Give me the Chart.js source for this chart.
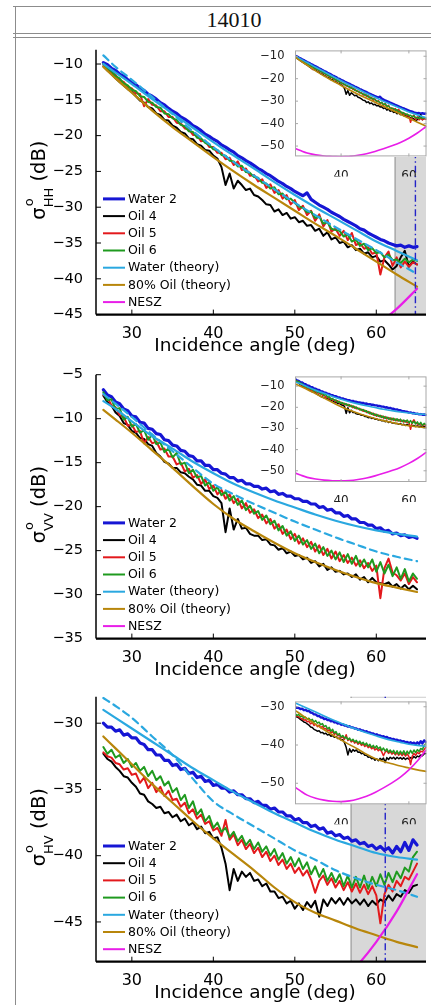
<!DOCTYPE html>
<html lang="en">
<head>
<meta charset="UTF-8" />
<meta name="viewport" content="width=device-width, initial-scale=1.0" />
<title>14010 - backscatter vs incidence angle</title>
<style>
  body { margin: 0; background: #fff; }
  #page { position: relative; width: 431px; height: 1005px; overflow: hidden; background: #fff; }
  .rule { position: absolute; background: #8c8c8c; }
  #header {
    position: absolute; left: 15px; width: 438px; top: 7px; height: 26px;
    line-height: 26px; text-align: center; color: #111;
    font-family: "Liberation Serif", "DejaVu Serif", serif; font-size: 22px;
  }
  canvas { position: absolute; }
  canvas.main { z-index: 1; }
  .insetBg { position: absolute; z-index: 2; background: #fff; }
  canvas.inset { z-index: 3; }
</style>
<script src="https://cdn.jsdelivr.net/npm/chart.js"></script>
</head>
<body>
<div id="page">
  <div class="rule" style="left:13px;top:5.5px;width:418px;height:1.5px"></div>
  <div class="rule" style="left:13px;top:32.5px;width:418px;height:1.5px"></div>
  <div class="rule" style="left:13px;top:36.5px;width:418px;height:1.5px"></div>
  <div class="rule" style="left:14.5px;top:5.5px;width:1.5px;height:1000px"></div>
  <div id="header">14010</div>

  <canvas id="hh" class="main"></canvas>
  <div id="hhInsetBg" class="insetBg"></div>
  <canvas id="hhInset" class="inset"></canvas>
  <canvas id="vv" class="main"></canvas>
  <div id="vvInsetBg" class="insetBg"></div>
  <canvas id="vvInset" class="inset"></canvas>
  <canvas id="hv" class="main"></canvas>
  <div id="hvInsetBg" class="insetBg"></div>
  <canvas id="hvInset" class="inset"></canvas>
</div>

<script>
// incidence angles of the measured profiles (deg)
const angles = [
  26.5, 27, 27.5, 28, 28.5, 29, 29.5, 30, 30.5, 31,
  31.5, 32, 32.5, 33, 33.5, 34, 34.5, 35, 35.5, 36,
  36.5, 37, 37.5, 38, 38.5, 39, 39.5, 40, 40.5, 41,
  41.5, 42, 42.5, 43, 43.5, 44, 44.5, 45, 45.5, 46,
  46.5, 47, 47.5, 48, 48.5, 49, 49.5, 50, 50.5, 51,
  51.5, 52, 52.5, 53, 53.5, 54, 54.5, 55, 55.5, 56,
  56.5, 57, 57.5, 58, 58.5, 59, 59.5, 60, 60.5, 61,
  61.5, 62, 62.5, 63, 63.5, 64, 64.5, 65
];

// incidence angles of the model curves and noise floor (deg)
const modelAngles = [26.5, 28, 30, 32.5, 35, 37.5, 40, 42.5, 45, 47.5, 50, 52.5, 55, 57.5, 60, 62.5, 65];

const nesz = [-51.1, -52.0, -53.1, -53.9, -54.4, -54.7, -54.8, -54.6, -54.1, -53.4, -52.4, -51.2, -49.9, -48.4, -46.5, -44.2, -41.4];

// ---- HH ----
const hhWater2 = [
  -9.8, -10.1, -10.6, -10.9, -11.4, -11.7, -12.2, -12.6, -12.9, -13.4,
  -13.7, -14.2, -14.5, -14.9, -15.4, -15.7, -16.2, -16.6, -16.9, -17.4,
  -17.7, -18.1, -18.6, -18.9, -19.3, -19.8, -20.1, -20.5, -20.8, -21.3,
  -21.6, -22.0, -22.3, -22.8, -23.1, -23.5, -23.8, -24.2, -24.6, -24.9,
  -25.3, -25.6, -26.0, -26.4, -26.7, -27.1, -27.4, -27.8, -28.1, -28.4,
  -28.0, -28.9, -29.3, -29.7, -30.0, -30.3, -30.7, -31.0, -31.3, -31.7,
  -32.0, -32.3, -32.6, -33.0, -33.2, -33.6, -33.9, -34.2, -34.5, -34.7,
  -35.0, -35.2, -35.4, -35.3, -35.6, -35.4, -35.6, -35.5
];
const hhOil4 = [
  -10.3, -10.9, -11.4, -12.0, -12.5, -13.0, -13.5, -13.9, -14.5, -15.1,
  -15.4, -16.0, -16.2, -16.9, -17.1, -17.8, -17.9, -18.6, -18.9, -19.5,
  -19.7, -20.4, -20.5, -21.2, -21.4, -22.0, -22.1, -22.8, -23.2, -24.4,
  -26.9, -25.3, -27.4, -26.3, -26.9, -27.6, -27.4, -28.3, -28.5, -29.0,
  -29.6, -29.7, -30.6, -30.3, -31.1, -30.8, -31.6, -31.4, -32.1, -31.9,
  -32.6, -32.5, -33.3, -33.0, -34.0, -33.5, -34.5, -34.2, -35.0, -34.8,
  -35.6, -35.3, -36.0, -35.8, -36.5, -36.3, -37.0, -36.8, -37.6, -37.4,
  -38.0, -38.7, -38.2, -37.0, -36.1, -38.3, -37.6, -38.0
];
const hhOil5 = [
  -10.1, -10.4, -11.2, -11.5, -12.3, -12.5, -13.2, -13.4, -14.1, -14.2,
  -15.9, -14.9, -15.7, -15.8, -16.6, -16.6, -17.4, -17.4, -18.2, -18.3,
  -19.0, -19.1, -19.9, -19.9, -20.8, -20.7, -21.6, -21.6, -22.4, -22.4,
  -23.3, -23.1, -24.1, -23.6, -24.8, -24.6, -25.6, -25.5, -26.4, -26.1,
  -27.3, -26.8, -28.0, -27.6, -28.8, -28.3, -29.6, -29.0, -30.4, -29.8,
  -31.1, -30.5, -31.9, -31.0, -32.7, -31.8, -33.4, -33.0, -34.0, -33.3,
  -34.6, -33.6, -35.3, -35.0, -35.8, -35.6, -36.5, -36.3, -39.4, -37.0,
  -36.2, -38.2, -37.0, -38.4, -37.6, -38.3, -37.7, -38.0
];
const hhOil6 = [
  -10.0, -10.6, -11.0, -11.7, -12.0, -12.7, -13.0, -13.6, -13.8, -14.5,
  -14.6, -15.3, -15.4, -16.0, -16.1, -16.9, -17.0, -17.6, -17.8, -18.5,
  -18.7, -19.4, -19.5, -20.3, -20.4, -21.0, -21.3, -21.9, -22.0, -22.7,
  -22.8, -23.5, -23.6, -24.3, -24.2, -25.1, -25.2, -25.8, -25.9, -26.6,
  -26.7, -27.4, -27.2, -28.2, -28.1, -28.9, -28.8, -29.4, -29.9, -30.1,
  -30.7, -30.6, -31.5, -31.3, -32.3, -32.1, -33.0, -33.2, -33.3, -34.1,
  -33.8, -34.8, -34.5, -35.4, -35.1, -36.0, -35.7, -36.4, -36.3, -37.0,
  -36.6, -37.4, -37.3, -37.8, -37.2, -37.7, -37.3, -37.5
];
const hhWaterModel = [-10.0, -11.2, -12.8, -14.9, -16.9, -18.9, -20.9, -22.8, -24.6, -26.5, -28.3, -30.0, -31.6, -33.2, -34.8, -36.1, -37.4];
const hhWaterModelB = [-8.8, -10.4, -12.2, -14.6, -17.0, -19.4, -21.6, -23.7, -25.6, -27.5, -29.4, -31.1, -32.8, -34.4, -36.0, -37.7, -39.3];
const hhOilModel = [-10.4, -12.0, -14.0, -16.5, -18.8, -20.9, -23.0, -25.0, -26.9, -28.7, -30.5, -32.3, -34.0, -35.8, -37.6, -39.4, -41.1];

// ---- VV ----
const vvWater2 = [
  -6.7, -7.3, -7.5, -8.1, -8.3, -8.9, -9.1, -9.7, -9.8, -10.4,
  -10.5, -11.1, -11.2, -11.7, -11.8, -12.4, -12.5, -13.0, -13.1, -13.6,
  -13.7, -14.2, -14.3, -14.8, -14.8, -15.3, -15.3, -15.8, -15.8, -16.2,
  -16.3, -16.7, -16.7, -17.1, -17.0, -17.4, -17.4, -17.7, -17.7, -18.0,
  -17.9, -18.3, -18.2, -18.6, -18.5, -18.8, -18.8, -19.1, -19.1, -19.4,
  -19.4, -19.7, -19.7, -20.1, -20.0, -20.4, -20.3, -20.7, -20.7, -21.1,
  -21.0, -21.4, -21.4, -21.8, -21.8, -22.1, -22.1, -22.5, -22.4, -22.8,
  -22.7, -23.1, -23.0, -23.3, -23.2, -23.5, -23.4, -23.6
];
const vvOil4 = [
  -7.4, -8.1, -8.5, -9.3, -9.7, -10.5, -10.7, -11.4, -11.6, -12.2,
  -12.3, -12.9, -13.1, -13.9, -14.3, -14.9, -15.1, -15.6, -15.6, -16.1,
  -16.2, -16.6, -16.9, -17.5, -17.6, -18.2, -18.2, -18.8, -19.0, -19.6,
  -22.9, -20.2, -22.6, -21.4, -22.5, -22.4, -23.1, -23.3, -23.3, -23.8,
  -23.7, -24.3, -24.4, -24.9, -24.7, -25.3, -25.1, -25.6, -25.5, -26.0,
  -25.8, -26.4, -26.2, -26.8, -26.5, -27.2, -26.9, -27.4, -27.3, -27.7,
  -27.6, -28.0, -27.7, -28.3, -28.0, -28.6, -28.1, -28.6, -28.7, -28.8,
  -28.6, -29.1, -28.8, -29.3, -28.9, -29.4, -29.0, -29.4
];
const vvOil5 = [
  -7.3, -7.6, -8.5, -8.7, -9.6, -9.8, -10.8, -10.7, -11.5, -11.4,
  -12.8, -12.1, -12.8, -12.6, -13.5, -13.4, -14.3, -14.3, -15.2, -15.0,
  -16.0, -15.7, -16.7, -16.4, -17.4, -16.9, -18.0, -17.6, -18.6, -18.1,
  -19.1, -18.6, -19.6, -19.1, -20.2, -19.6, -20.7, -20.3, -21.3, -20.9,
  -21.9, -21.4, -22.5, -22.0, -23.1, -22.6, -23.7, -23.1, -24.2, -23.6,
  -24.6, -24.0, -25.1, -24.4, -25.5, -24.8, -25.9, -25.1, -26.2, -25.5,
  -26.4, -25.8, -26.7, -26.1, -27.0, -26.4, -27.3, -26.7, -30.4, -27.0,
  -25.9, -27.5, -27.8, -28.4, -27.6, -28.8, -28.0, -28.6
];
const vvOil6 = [
  -7.0, -7.9, -7.8, -8.9, -8.8, -10.1, -9.8, -10.9, -10.6, -11.6,
  -11.3, -12.4, -11.8, -12.9, -12.7, -13.8, -13.4, -14.4, -13.9, -15.2,
  -15.0, -16.2, -15.8, -16.7, -16.5, -17.6, -17.2, -18.2, -17.8, -18.7,
  -18.3, -19.3, -18.8, -19.8, -19.3, -20.4, -19.9, -20.8, -20.5, -21.5,
  -21.0, -22.0, -21.6, -22.7, -22.2, -23.3, -22.8, -23.9, -23.3, -24.3,
  -23.8, -24.8, -24.2, -25.3, -24.6, -25.6, -25.0, -26.0, -25.2, -26.3,
  -25.4, -26.5, -25.6, -26.8, -26.0, -26.9, -26.0, -27.4, -26.3, -27.6,
  -26.6, -27.9, -26.9, -28.2, -27.1, -28.5, -27.6, -28.2
];
const vvWaterModel = [-8.0, -8.9, -10.3, -12.0, -13.4, -14.9, -16.2, -17.4, -18.4, -19.3, -20.1, -20.9, -21.6, -22.2, -22.7, -23.1, -23.4];
const vvWaterModelB = [-7.2, -8.3, -9.8, -11.8, -13.7, -15.6, -17.4, -18.6, -19.7, -20.7, -21.7, -22.6, -23.5, -24.3, -25.1, -25.7, -26.2];
const vvOilModel = [-9.0, -10.1, -11.6, -13.6, -15.6, -17.7, -19.7, -21.4, -22.8, -24.1, -25.3, -26.3, -27.2, -28.0, -28.7, -29.2, -29.7];

// ---- HV ----
const hvWater2 = [
  -30.0, -30.3, -30.3, -30.6, -30.5, -30.9, -30.8, -31.1, -31.1, -31.5,
  -31.6, -32.0, -32.0, -32.4, -32.4, -32.8, -32.8, -33.2, -33.1, -33.5,
  -33.4, -33.8, -33.7, -34.1, -34.0, -34.4, -34.3, -34.7, -34.6, -34.9,
  -34.9, -35.2, -35.1, -35.4, -35.4, -35.7, -35.7, -36.0, -35.9, -36.2,
  -36.2, -36.5, -36.4, -36.7, -36.7, -37.0, -37.0, -37.3, -37.2, -37.5,
  -37.5, -37.8, -37.7, -38.0, -37.9, -38.3, -38.2, -38.5, -38.4, -38.7,
  -38.6, -38.9, -38.8, -39.1, -39.0, -39.3, -39.2, -39.5, -39.3, -39.6,
  -39.4, -39.8, -39.3, -39.7, -39.0, -39.6, -38.8, -39.2
];
const hvOil4 = [
  -32.3, -32.7, -32.9, -33.3, -33.6, -34.0, -34.1, -34.5, -34.8, -35.3,
  -35.4, -35.9, -36.1, -36.4, -36.3, -36.8, -36.7, -37.1, -36.9, -37.4,
  -37.2, -37.7, -37.5, -38.0, -37.8, -38.3, -38.2, -38.7, -38.6, -39.4,
  -40.6, -42.6, -41.0, -41.9, -41.2, -41.6, -41.3, -41.9, -41.8, -42.3,
  -42.1, -42.7, -42.7, -43.2, -43.1, -43.6, -43.4, -44.0, -43.6, -44.1,
  -43.5, -43.9, -43.4, -44.6, -43.3, -43.8, -43.2, -43.6, -43.2, -43.7,
  -43.2, -43.6, -43.3, -43.7, -43.3, -43.8, -43.4, -43.7, -43.3, -43.5,
  -43.0, -43.4, -42.9, -43.1, -42.6, -42.8, -42.3, -42.2
];
const hvOil5 = [
  -32.2, -32.5, -32.6, -33.0, -33.1, -33.5, -33.4, -33.9, -33.8, -34.5,
  -34.1, -34.9, -34.5, -35.2, -34.8, -35.5, -35.1, -35.8, -35.7, -36.3,
  -36.0, -36.8, -36.5, -37.2, -36.9, -37.6, -37.4, -38.1, -37.9, -38.5,
  -37.3, -38.8, -38.4, -39.2, -38.8, -39.5, -39.1, -39.8, -39.4, -40.1,
  -39.7, -40.4, -40.0, -40.7, -40.3, -41.0, -40.6, -41.3, -40.9, -41.5,
  -41.1, -41.8, -42.8, -41.9, -41.5, -42.2, -41.7, -42.4, -41.9, -42.6,
  -42.0, -42.7, -42.1, -42.8, -42.2, -42.9, -42.3, -43.0, -45.1, -42.9,
  -42.2, -42.7, -41.9, -42.3, -41.6, -41.8, -41.2, -40.6
];
const hvOil6 = [
  -31.8, -32.3, -32.0, -32.6, -32.4, -33.0, -32.7, -33.3, -33.0, -33.6,
  -33.3, -34.0, -33.6, -34.3, -34.0, -34.7, -34.4, -35.2, -34.9, -35.8,
  -35.4, -36.4, -35.9, -36.9, -36.5, -37.4, -37.0, -37.9, -37.5, -38.2,
  -37.9, -38.6, -38.2, -38.9, -38.5, -39.2, -38.8, -39.5, -39.0, -39.7,
  -39.3, -40.0, -39.5, -40.3, -39.8, -40.6, -40.1, -40.8, -40.2, -41.0,
  -40.5, -41.4, -40.8, -41.6, -41.0, -41.9, -41.3, -42.0, -41.4, -42.3,
  -41.5, -42.4, -41.6, -42.4, -41.5, -42.5, -41.6, -42.3, -41.4, -42.2,
  -41.3, -42.0, -41.2, -41.7, -40.9, -41.2, -40.1, -39.7
];
const hvWaterModel = [-29.0, -29.6, -30.4, -31.4, -32.4, -33.4, -34.3, -35.2, -36.0, -36.8, -37.5, -38.2, -38.8, -39.3, -39.8, -40.1, -40.3];
const hvWaterModelB = [-28.1, -28.7, -29.6, -31.0, -32.4, -34.2, -35.9, -36.9, -37.8, -38.7, -39.6, -40.3, -41.1, -41.7, -42.2, -42.6, -43.1];
const hvOilModel = [-31.0, -31.9, -33.1, -34.6, -36.0, -37.4, -38.7, -39.9, -41.1, -42.4, -43.5, -44.3, -44.9, -45.5, -46.0, -46.5, -46.9];

// axis ticks
const xTicks = [30, 40, 50, 60];
const insetXTicks = [40, 60];
const hhTicks = [-45, -40, -35, -30, -25, -20, -15, -10];
const vvTicks = [-35, -30, -25, -20, -15, -10, -5];
const hvTicks = [-45, -40, -35, -30];
const insetTicks = [-50, -40, -30, -20, -10];
const insetHvTicks = [-50, -40, -30];

// shaded high-angle region and NESZ cut-off angle
const hhShadeFrom = 62.3, hhCutoff = 64.8;
const hvShadeFrom = 56.9, hvCutoff = 61.1;

const seriesNames = ['Water 2', 'Oil 4', 'Oil 5', 'Oil 6', 'Water (theory)', '80% Oil (theory)', 'NESZ'];

// line styles, in legend order
const FONT = '"DejaVu Sans", sans-serif';
const lineStyles = [
  { color: '#1616d4', width: 3.2 },
  { color: '#000000', width: 2 },
  { color: '#e3191c', width: 2 },
  { color: '#1f9a1f', width: 2 },
  { color: '#2aa8e0', width: 2.2 },
  { color: '#b8860b', width: 2.2 },
  { color: '#e81ee8', width: 2.2 }
];

const minus = v => (v < 0 ? '\u2212' + Math.abs(v) : String(v));
const pts = (xs, ys) => xs.map((x, i) => ({ x, y: ys[i] }));
const fixTicks = list => s => { s.ticks = list.map(v => ({ value: v })); };

function buildSets(p, inset) {
  const k = inset ? 0.75 : 1;
  const st = lineStyles;
  const sets = [
    { data: pts(angles, p.water2), borderColor: st[0].color, borderWidth: st[0].width * k },
    { data: pts(angles, p.oil4), borderColor: st[1].color, borderWidth: st[1].width * k },
    { data: pts(angles, p.oil5), borderColor: st[2].color, borderWidth: st[2].width * k },
    { data: pts(angles, p.oil6), borderColor: st[3].color, borderWidth: st[3].width * k },
    { data: pts(modelAngles, p.waterModel), borderColor: st[4].color, borderWidth: st[4].width * k, cubicInterpolationMode: 'monotone' }
  ];
  if (!inset) {
    // second water model, dashed
    sets.push({ data: pts(modelAngles, p.waterModelB), borderColor: st[4].color, borderWidth: st[4].width,
                borderDash: [7, 5], cubicInterpolationMode: 'monotone' });
  }
  sets.push(
    { data: pts(modelAngles, p.oilModel), borderColor: st[5].color, borderWidth: st[5].width * k, cubicInterpolationMode: 'monotone' },
    { data: pts(modelAngles, nesz), borderColor: st[6].color, borderWidth: st[6].width * k, cubicInterpolationMode: 'monotone' }
  );
  // later series are drawn on top
  return sets.map((s, i) => Object.assign({
    pointRadius: 0, fill: false, borderJoinStyle: 'round', borderCapStyle: 'round', order: -i
  }, s));
}

function drawYTitle(ctx, pol, cx, cy) {
  const big = '19.5px ' + FONT, small = '13px ' + FONT;
  ctx.save();
  ctx.translate(cx, cy);
  ctx.rotate(-Math.PI / 2);
  ctx.fillStyle = '#000';
  ctx.textAlign = 'left';
  ctx.textBaseline = 'alphabetic';
  ctx.font = big;
  const wSig = ctx.measureText('\u03c3').width;
  const wUnit = ctx.measureText(' (dB)').width;
  ctx.font = small;
  const wSub = Math.max(ctx.measureText(pol).width, ctx.measureText('o').width);
  let x = -(wSig + wSub + wUnit) / 2;
  ctx.font = big;
  ctx.fillText('\u03c3', x, 0);
  x += wSig;
  ctx.font = small;
  ctx.fillText('o', x + 1, -12);
  ctx.fillText(pol, x, 8);
  x += wSub;
  ctx.font = big;
  ctx.fillText(' (dB)', x, 0);
  ctx.restore();
}

// axes, ticks, legend, titles and shading of the main panels
const mainDecor = {
  id: 'mainDecor',
  beforeDatasetsDraw(chart, args, opts) {
    if (opts.shadeFrom == null) return;
    const { ctx, chartArea: a, scales: { x } } = chart;
    const x0 = x.getPixelForValue(opts.shadeFrom);
    ctx.save();
    ctx.fillStyle = '#d8d8d8';
    ctx.fillRect(x0, a.top, a.right - x0, a.bottom - a.top);
    ctx.strokeStyle = '#8a8a8a';
    ctx.lineWidth = 1;
    ctx.beginPath();
    ctx.moveTo(x0, a.top);
    ctx.lineTo(x0, a.bottom);
    ctx.stroke();
    ctx.restore();
  },
  afterDatasetsDraw(chart, args, opts) {
    if (opts.cutoff == null) return;
    const { ctx, chartArea: a, scales: { x } } = chart;
    const xc = x.getPixelForValue(opts.cutoff);
    ctx.save();
    ctx.strokeStyle = '#2424c8';
    ctx.lineWidth = 1.4;
    ctx.setLineDash([7, 3, 1.5, 3]);
    ctx.beginPath();
    ctx.moveTo(xc, a.top);
    ctx.lineTo(xc, a.bottom);
    ctx.stroke();
    ctx.restore();
  },
  afterDraw(chart, args, opts) {
    const { ctx, chartArea: a, scales: { x, y } } = chart;
    ctx.save();
    // axis lines with inward ticks
    ctx.strokeStyle = '#000';
    ctx.lineWidth = 1.5;
    ctx.beginPath();
    ctx.moveTo(a.left, a.top);
    ctx.lineTo(a.left, a.bottom);
    ctx.stroke();
    ctx.lineWidth = 2.2;
    ctx.beginPath();
    ctx.moveTo(a.left, a.bottom);
    ctx.lineTo(a.right, a.bottom);
    ctx.stroke();
    ctx.lineWidth = 1;
    ctx.beginPath();
    y.ticks.forEach(t => {
      const py = y.getPixelForValue(t.value);
      ctx.moveTo(a.left, py);
      ctx.lineTo(a.left + 5, py);
    });
    x.ticks.forEach(t => {
      const px = x.getPixelForValue(t.value);
      ctx.moveTo(px, a.bottom);
      ctx.lineTo(px, a.bottom - 5);
    });
    ctx.stroke();

    // legend in the lower left corner
    ctx.font = '12.5px ' + FONT;
    ctx.textAlign = 'left';
    ctx.textBaseline = 'middle';
    ctx.fillStyle = '#000';
    seriesNames.forEach((name, i) => {
      const ly = a.bottom - 12.5 - (seriesNames.length - 1 - i) * 17.2;
      ctx.strokeStyle = lineStyles[i].color;
      ctx.lineWidth = i === 0 ? 3 : 2;
      ctx.beginPath();
      ctx.moveTo(a.left + 7, ly);
      ctx.lineTo(a.left + 29, ly);
      ctx.stroke();
      ctx.fillText(name, a.left + 32, ly + 0.5);
    });

    // x label
    ctx.font = '18.5px ' + FONT;
    ctx.textAlign = 'center';
    ctx.fillText('Incidence angle (deg)', 255, a.bottom + 31.5);
    ctx.restore();

    drawYTitle(ctx, opts.pol, 45, (a.top + a.bottom) / 2 - 2);
  }
};

// box and ticks of the insets
const insetDecor = {
  id: 'insetDecor',
  afterDraw(chart) {
    const { ctx, chartArea: a, scales: { x, y } } = chart;
    ctx.save();
    ctx.strokeStyle = '#a8a8a8';
    ctx.lineWidth = 1;
    ctx.strokeRect(a.left + 0.5, a.top + 0.5, a.right - a.left - 1, a.bottom - a.top - 1);
    ctx.beginPath();
    y.ticks.forEach(t => {
      const py = y.getPixelForValue(t.value);
      ctx.moveTo(a.left, py); ctx.lineTo(a.left + 3, py);
      ctx.moveTo(a.right, py); ctx.lineTo(a.right - 3, py);
    });
    x.ticks.forEach(t => {
      const px = x.getPixelForValue(t.value);
      ctx.moveTo(px, a.bottom); ctx.lineTo(px, a.bottom - 3);
      ctx.moveTo(px, a.top); ctx.lineTo(px, a.top + 3);
    });
    ctx.stroke();
    ctx.restore();
  }
};

function mainChart(id, p) {
  const cv = document.getElementById(id);
  const plotH = p.bottom - p.top;
  const h = Math.ceil(plotH + 10 + 46);
  cv.width = 431;
  cv.height = h;
  cv.style.left = '0px';
  cv.style.top = (p.top - 10) + 'px';
  new Chart(cv, {
    type: 'line',
    data: { datasets: buildSets(p, false) },
    options: {
      responsive: false,
      animation: false,
      events: [],
      layout: { autoPadding: false, padding: { left: 0, right: 5, top: 10, bottom: h - 10 - plotH - 45 } },
      plugins: {
        legend: { display: false },
        tooltip: { enabled: false },
        mainDecor: { pol: p.pol, shadeFrom: p.shadeFrom, cutoff: p.cutoff }
      },
      scales: {
        x: {
          type: 'linear', min: 25.6, max: 66.1,
          afterBuildTicks: fixTicks(xTicks),
          afterFit: s => { s.height = 45; },
          grid: { display: false }, border: { display: false },
          ticks: { color: '#000', font: { family: FONT, size: 16 }, padding: 2, maxRotation: 0, autoSkip: false, callback: minus }
        },
        y: {
          type: 'linear', min: p.yMin, max: p.yMax,
          afterBuildTicks: fixTicks(p.yTicks),
          afterFit: s => { s.width = 96; },
          grid: { display: false }, border: { display: false },
          ticks: { color: '#000', font: { family: FONT, size: 14.5 }, padding: 5, autoSkip: false, callback: minus }
        }
      }
    },
    plugins: [mainDecor]
  });
}

const INSET_LEFT = 295, INSET_RIGHT = 426.5;

function insetChart(id, p) {
  const cv = document.getElementById(id);
  const b = p.inset;
  const boxH = b.bottom - b.top;
  const h = Math.ceil(boxH + 6 + 21);
  cv.width = 181;
  cv.height = h;
  cv.style.left = (INSET_LEFT - 45) + 'px';
  cv.style.top = (b.top - 6) + 'px';

  // opaque panel behind the inset plot area
  const bg = document.getElementById(id + 'Bg');
  bg.style.left = INSET_LEFT + 'px';
  bg.style.top = b.top + 'px';
  bg.style.width = (INSET_RIGHT - INSET_LEFT) + 'px';
  bg.style.height = boxH + 'px';

  new Chart(cv, {
    type: 'line',
    data: { datasets: buildSets(p, true) },
    options: {
      responsive: false,
      animation: false,
      events: [],
      layout: { autoPadding: false, padding: { left: 0, right: 431 - INSET_RIGHT, top: 6, bottom: h - 6 - boxH - 20 } },
      plugins: { legend: { display: false }, tooltip: { enabled: false } },
      scales: {
        x: {
          type: 'linear', min: 26.4, max: 65.2,
          afterBuildTicks: fixTicks(insetXTicks),
          afterFit: s => { s.height = 20; },
          grid: { display: false }, border: { display: false },
          ticks: { color: '#222', font: { family: FONT, size: 12 }, padding: 4, maxRotation: 0, autoSkip: false, callback: minus }
        },
        y: {
          type: 'linear', min: b.yMin, max: b.yMax,
          afterBuildTicks: fixTicks(b.ticks),
          afterFit: s => { s.width = 45; },
          grid: { display: false }, border: { display: false },
          ticks: { color: '#222', font: { family: FONT, size: 11.5 }, padding: 2.5, autoSkip: false, callback: minus }
        }
      }
    },
    plugins: [insetDecor]
  });
}

const panels = [
  { id: 'hh', pol: 'HH', top: 46, bottom: 314.6, yMin: -45, yMax: -8, yTicks: hhTicks,
    shadeFrom: hhShadeFrom, cutoff: hhCutoff,
    water2: hhWater2, oil4: hhOil4, oil5: hhOil5, oil6: hhOil6,
    waterModel: hhWaterModel, waterModelB: hhWaterModelB, oilModel: hhOilModel,
    inset: { top: 47.3, bottom: 156.7, yMin: -54.6, yMax: -7.4, ticks: insetTicks } },
  { id: 'vv', pol: 'VV', top: 370.7, bottom: 638.3, yMin: -35, yMax: -5, yTicks: vvTicks,
    shadeFrom: null, cutoff: null,
    water2: vvWater2, oil4: vvOil4, oil5: vvOil5, oil6: vvOil6,
    waterModel: vvWaterModel, waterModelB: vvWaterModelB, oilModel: vvOilModel,
    inset: { top: 373.3, bottom: 482.3, yMin: -55.3, yMax: -5.4, ticks: insetTicks } },
  { id: 'hv', pol: 'HV', top: 693.3, bottom: 962, yMin: -48, yMax: -28, yTicks: hvTicks,
    shadeFrom: hvShadeFrom, cutoff: hvCutoff,
    water2: hvWater2, oil4: hvOil4, oil5: hvOil5, oil6: hvOil6,
    waterModel: hvWaterModel, waterModelB: hvWaterModelB, oilModel: hvOilModel,
    inset: { top: 697.7, bottom: 804, yMin: -55.5, yMax: -28.6, ticks: insetHvTicks } }
];

panels.forEach(p => {
  mainChart(p.id, p);
  insetChart(p.id + 'Inset', p);
});
</script>
</body>
</html>
